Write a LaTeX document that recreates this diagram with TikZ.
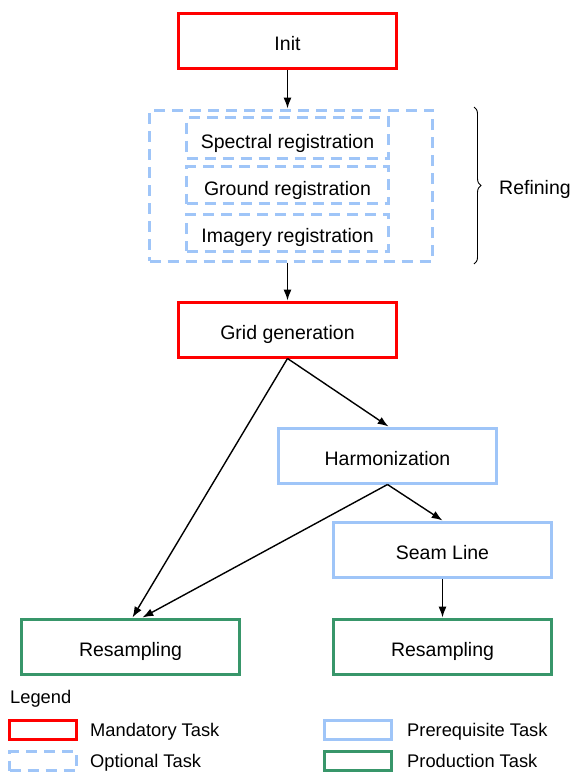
\documentclass[tikz,border=0pt]{standalone}
\usepackage{fontspec}
\setmainfont{Liberation Sans}
\usetikzlibrary{arrows.meta, decorations.pathreplacing}
\definecolor{TaskRed}{HTML}{FF0000}
\definecolor{TaskBlue}{HTML}{9FC5F8}
\definecolor{TaskGreen}{HTML}{38966A}

\begin{document}
\begin{tikzpicture}[x=1pt, y=-1pt,
    task/.style={rectangle, line width=3pt, minimum width=218pt, minimum height=55pt, align=center, text height=20pt, text depth=0pt, font=\fontsize{19.5}{22}\selectfont},
    mandatory/.style={task, draw=TaskRed},
    prereq/.style={task, draw=TaskBlue},
    production/.style={task, draw=TaskGreen},
    optional/.style={rectangle, draw=TaskBlue, line width=3pt, dash pattern=on 11pt off 7pt, text height=20pt, text depth=0pt, font=\fontsize{19.5}{22}\selectfont},
    legbox/.style={rectangle, line width=3pt, minimum width=67pt, minimum height=19pt},
    legtext/.style={anchor=west, inner sep=0pt, text depth=0pt, font=\fontsize{18.3}{21}\selectfont},
    arrow/.style={-{Latex[length=3.8mm, width=2.8mm]}, draw=black, line width=1.4pt}
]
\useasboundingbox (0,0) rectangle (573,776);

\node[mandatory] (init) at (287.5,41) {Init};

\node[optional, minimum width=283pt, minimum height=151pt] (refine) at (291,185.5) {};
\node[optional, minimum width=202pt, minimum height=41pt] (spectral) at (287.5,138) {Spectral registration};
\node[optional, minimum width=202pt, minimum height=37pt] (ground) at (287.5,185) {Ground registration};
\node[optional, minimum width=202pt, minimum height=37pt] (imagery) at (287.5,232.5) {Imagery registration};

\draw[decorate, decoration={brace, amplitude=7pt}, line width=0.9pt] (474,107) -- (474,264);
\node[legtext, font=\fontsize{19.5}{22}\selectfont] (refining) at (499,187) {Refining};

\node[mandatory] (grid) at (287.5,329.5) {Grid generation};
\node[prereq] (harmo) at (387.5,455.5) {Harmonization};
\node[prereq] (seam) at (442.5,549.5) {Seam Line};
\node[production] (resL) at (130.5,646.5) {Resampling};
\node[production] (resR) at (442.5,646.5) {Resampling};

\draw[arrow] (init.south) -- (init.south |- refine.north);
\draw[arrow] (init.south |- refine.south) -- (grid.north);
\draw[arrow] (grid.south) -- ([xshift=1pt]harmo.north);
\draw[arrow] (grid.south) -- ([xshift=2pt]resL.north);
\draw[arrow] (harmo.south) -- (seam.north);
\draw[arrow] (harmo.south) -- ([xshift=12pt]resL.north);
\draw[arrow] (seam.south) -- (resR.north);

% legend
\node[legtext] (legend) at (10,697) {Legend};
\node[legbox, draw=TaskRed] (legM) at (43,730) {};
\node[legtext] at (90,730) {Mandatory Task};
\node[legbox, draw=TaskBlue, dash pattern=on 11pt off 7pt] (legO) at (43,761) {};
\node[legtext] at (90,761) {Optional Task};
\node[legbox, draw=TaskBlue] (legP) at (357.5,730) {};
\node[legtext] at (407,730) {Prerequisite Task};
\node[legbox, draw=TaskGreen] (legR) at (357.5,761) {};
\node[legtext] at (407,761) {Production Task};
\end{tikzpicture}
\end{document}
